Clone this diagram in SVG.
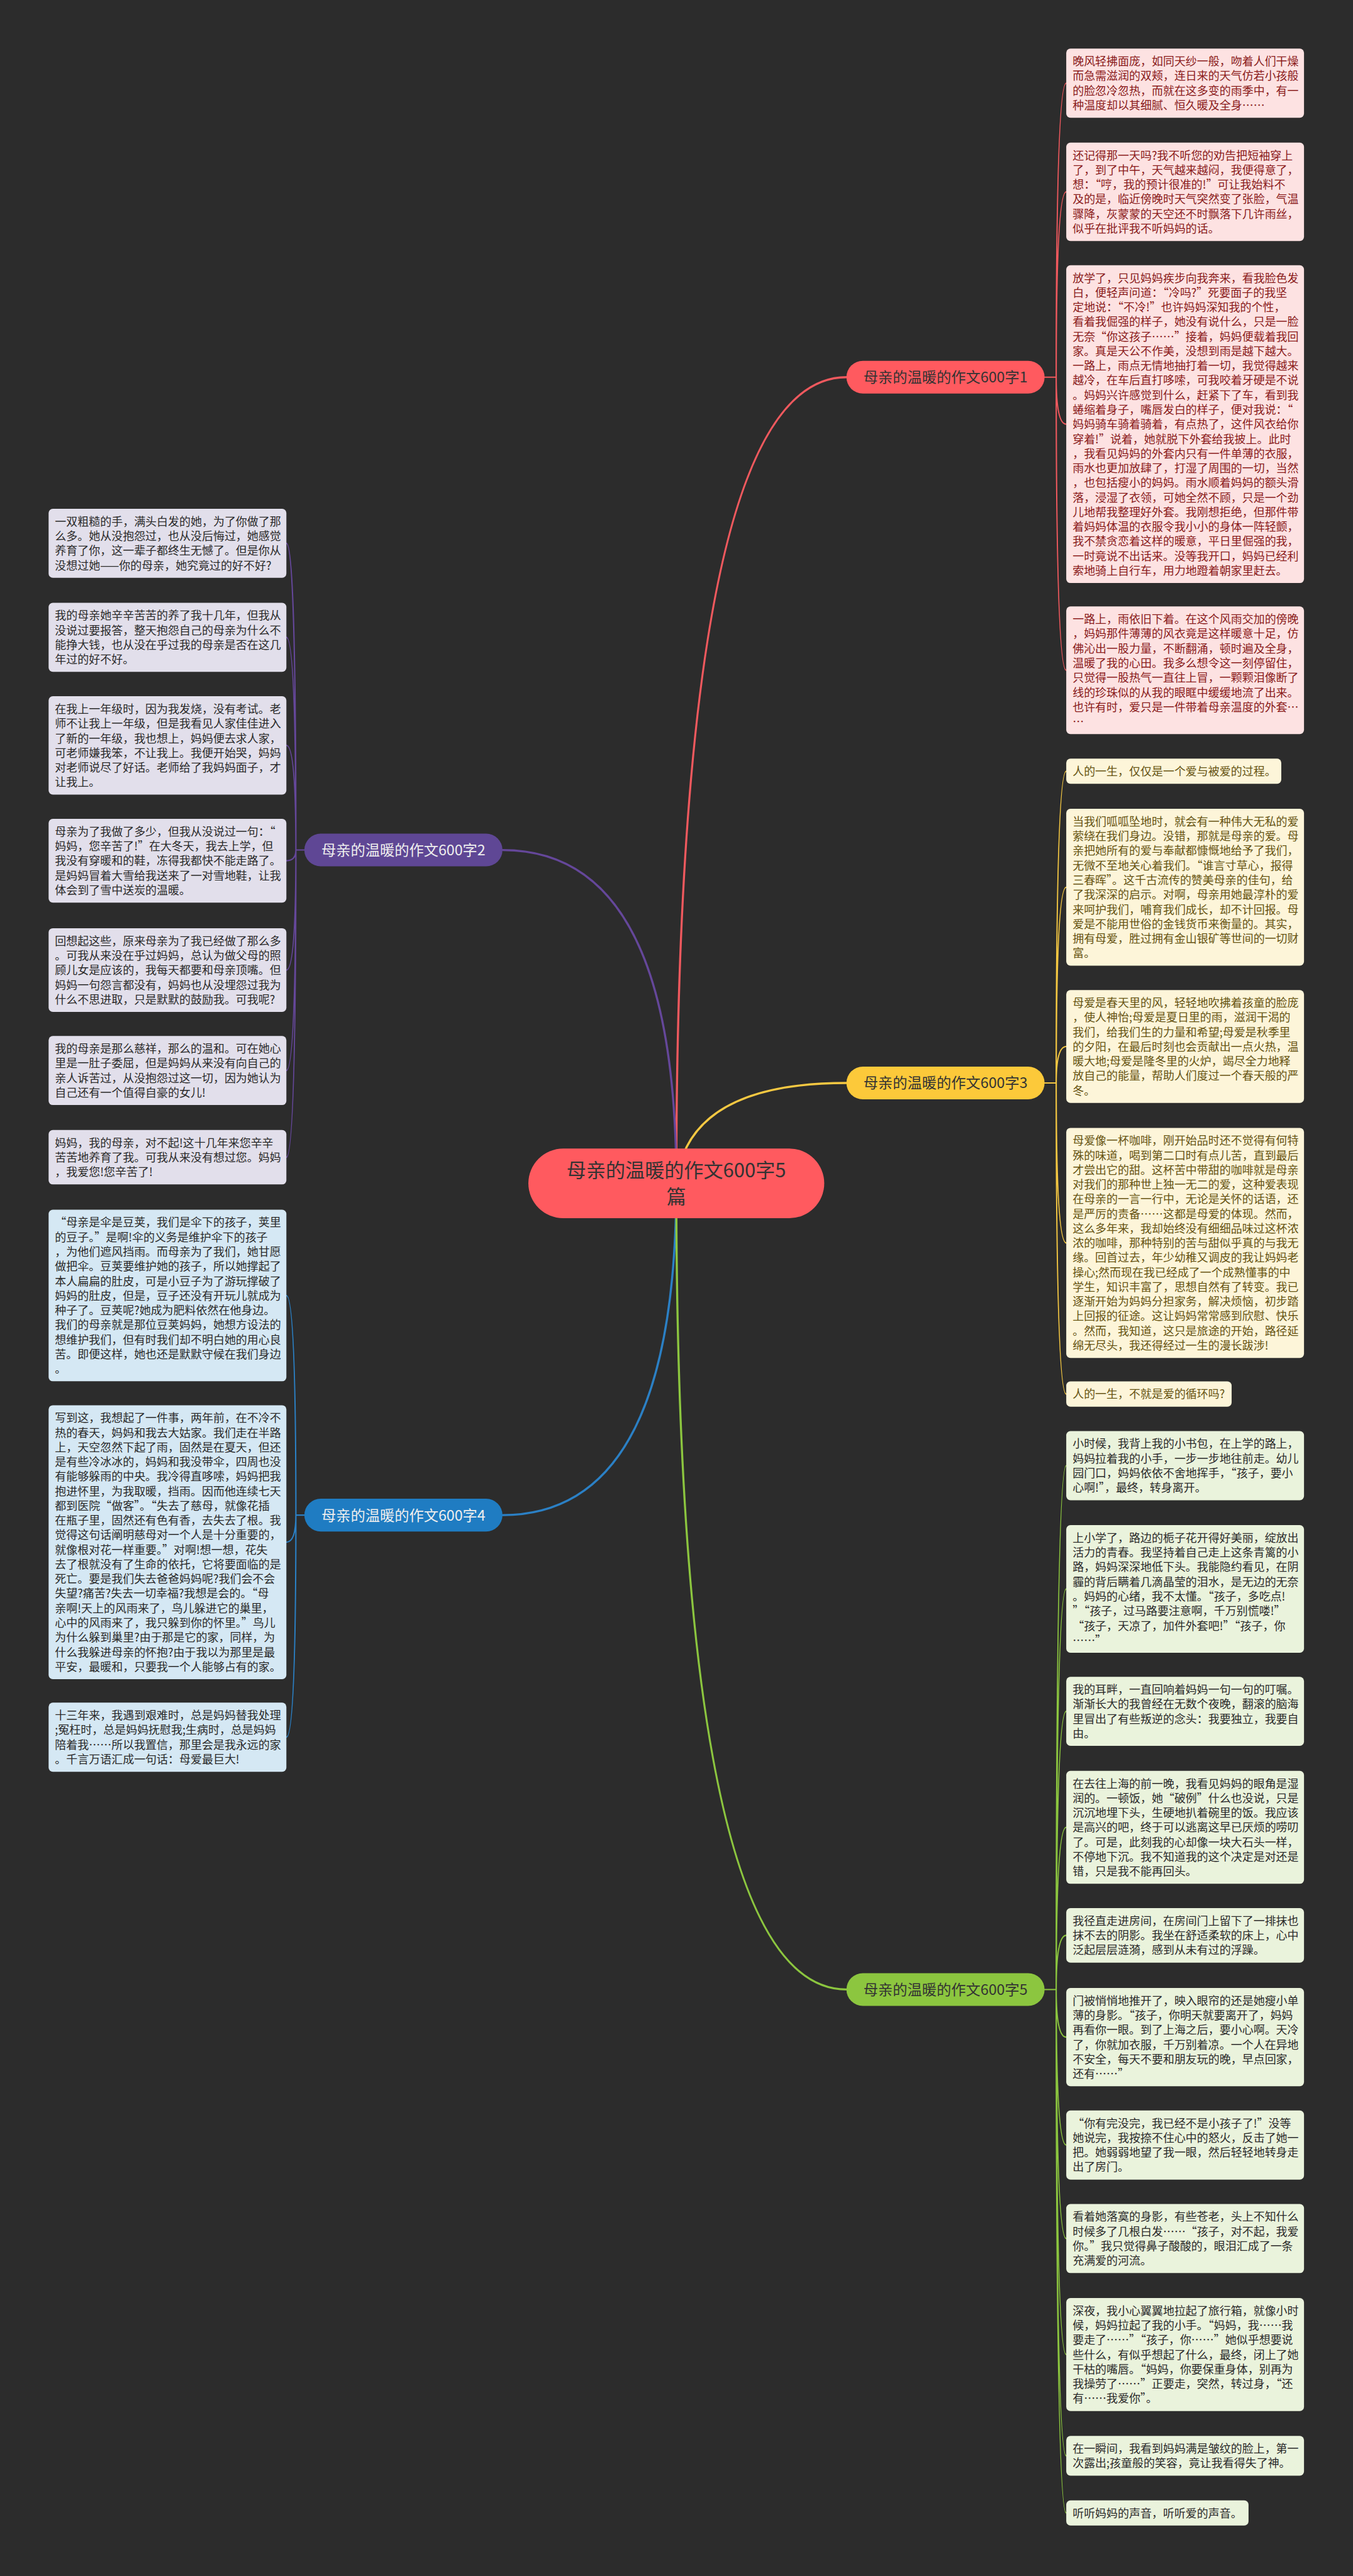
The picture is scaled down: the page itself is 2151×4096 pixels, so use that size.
<svg xmlns="http://www.w3.org/2000/svg" width="2151" height="4096" viewBox="0 0 2151 4096">
<style>
.t{font-family:"Noto Sans CJK SC","Noto Sans",sans-serif;font-size:21.4px}
.b{font-family:"Noto Sans CJK SC","Noto Sans",sans-serif;font-size:27.7px;text-anchor:middle}
.c{font-family:"Noto Sans CJK SC","Noto Sans",sans-serif;font-size:37px;text-anchor:middle;fill:#333}
.r rect{fill:#fde2e2}.r text{fill:#8a1a1a}
.y rect{fill:#fdf5d9}.y text{fill:#665311}
.g rect{fill:#eaf3dc}.g text{fill:#2a2a2a}
.p rect{fill:#e2dfeb}.p text{fill:#2a2a2a}
.u rect{fill:#d5e8f4}.u text{fill:#2a2a2a}
.cn path{fill:none;stroke-linecap:round}
.m{stroke-width:4}.s{stroke-width:2.5}
.lr{stroke:#f0595e}.ly{stroke:#f5c842}.lg{stroke:#8cc63f}.lp{stroke:#65479a}.lb{stroke:#2b80c5}
</style>
<rect x="0" y="0" width="2151" height="4096" fill="#2c2c2c"/>
<g transform="scale(0.84)">
<g id="connectors" class="cn">
<path class="m lr" d="M1280,2240 Q1280,714 1602,714"/>
<path class="m lp" d="M1280,2240 Q1280,1609 951,1609"/>
<path class="m ly" d="M1280,2240 Q1300,2050 1602,2050"/>
<path class="m lb" d="M1280,2240 Q1280,2868 951,2868"/>
<path class="m lg" d="M1280,2240 Q1280,3766 1602,3766"/>
<path class="s lr" d="M1977,714 L1999,714 M1999,714 Q1999,157.4 2018,157.4 M1999,714 Q1999,363.1 2018,363.1 M1999,714 Q1999,802.9 2018,802.9 M1999,714 Q1999,1268.8 2018,1268.8"/>
<path class="s ly" d="M1977,2050 L1999,2050 M1999,2050 Q1999,1459.9 2018,1459.9 M1999,2050 Q1999,1679.5 2018,1679.5 M1999,2050 Q1999,1981 2018,1981 M1999,2050 Q1999,2352.8 2018,2352.8 M1999,2050 Q1999,2638.9 2018,2638.9"/>
<path class="s lg" d="M1977,3766 L1999,3766 M1999,3766 Q1999,2774.4 2018,2774.4 M1999,3766 Q1999,3007.8 2018,3007.8 M1999,3766 Q1999,3239.4 2018,3239.4 M1999,3766 Q1999,3459 2018,3459 M1999,3766 Q1999,3663.6 2018,3663.6 M1999,3766 Q1999,3856.1 2018,3856.1 M1999,3766 Q1999,4060.4 2018,4060.4 M1999,3766 Q1999,4237.4 2018,4237.4 M1999,3766 Q1999,4457 2018,4457 M1999,3766 Q1999,4648.7 2018,4648.7 M1999,3766 Q1999,4756.9 2018,4756.9"/>
<path class="s lp" d="M576,1609 L560,1609 M560,1609 Q560,1028.4 542,1028.4 M560,1609 Q560,1206.4 542,1206.4 M560,1609 Q560,1411.1 542,1411.1 M560,1609 Q560,1629.3 542,1629.3 M560,1609 Q560,1836.3 542,1836.3 M560,1609 Q560,2026.4 542,2026.4 M560,1609 Q560,2190.6 542,2190.6"/>
<path class="s lb" d="M576,2868 L560,2868 M560,2868 Q560,2452.4 542,2452.4 M560,2868 Q560,2919.3 542,2919.3 M560,2868 Q560,3288.4 542,3288.4"/>
</g>

<g id="center"><rect x="1000" y="2174" width="560" height="132" rx="66" fill="#ff5a5f"/><text class="c" x="1280" y="2229">母亲的温暖的作文600字5</text><text class="c" x="1280" y="2278">篇</text></g>
<g id="branch1"><rect x="1602" y="683" width="375" height="62" rx="31" fill="#ff5a5f"/><text class="b" x="1789.5" y="724" fill="#333">母亲的温暖的作文600字1</text></g>
<g id="branch2"><rect x="576" y="1578" width="375" height="62" rx="31" fill="#5f4795"/><text class="b" x="763.5" y="1619" fill="#eeeeee">母亲的温暖的作文600字2</text></g>
<g id="branch3"><rect x="1602" y="2019" width="375" height="62" rx="31" fill="#fcc93a"/><text class="b" x="1789.5" y="2060" fill="#333">母亲的温暖的作文600字3</text></g>
<g id="branch4"><rect x="576" y="2837" width="375" height="62" rx="31" fill="#1f7cc2"/><text class="b" x="763.5" y="2878" fill="#eeeeee">母亲的温暖的作文600字4</text></g>
<g id="branch5"><rect x="1602" y="3735" width="375" height="62" rx="31" fill="#8cc63f"/><text class="b" x="1789.5" y="3776" fill="#333">母亲的温暖的作文600字5</text></g>

<g id="a1" class="r"><rect x="2018" y="92" width="450" height="130.8" rx="8"/><text class="t" x="2030" y="124"><tspan x="2030">晚风轻拂面庞，如同天纱一般，吻着人们干燥</tspan><tspan x="2030" dy="27.7">而急需滋润的双颊，连日来的天气仿若小孩般</tspan><tspan x="2030" dy="27.7">的脸忽冷忽热，而就在这多变的雨季中，有一</tspan><tspan x="2030" dy="27.7">种温度却以其细腻、恒久暖及全身……</tspan></text></g>
<g id="a2" class="r"><rect x="2018" y="270" width="450" height="186.2" rx="8"/><text class="t" x="2030" y="302"><tspan x="2030">还记得那一天吗?我不听您的劝告把短袖穿上</tspan><tspan x="2030" dy="27.7">了，到了中午，天气越来越闷，我便得意了，</tspan><tspan x="2030" dy="27.7">想：“哼，我的预计很准的!”可让我始料不</tspan><tspan x="2030" dy="27.7">及的是，临近傍晚时天气突然变了张脸，气温</tspan><tspan x="2030" dy="27.7">骤降，灰蒙蒙的天空还不时飘落下几许雨丝，</tspan><tspan x="2030" dy="27.7">似乎在批评我不听妈妈的话。</tspan></text></g>
<g id="a3" class="r"><rect x="2018" y="502" width="450" height="601.7" rx="8"/><text class="t" x="2030" y="534"><tspan x="2030">放学了，只见妈妈疾步向我奔来，看我脸色发</tspan><tspan x="2030" dy="27.7">白，便轻声问道：“冷吗?”死要面子的我坚</tspan><tspan x="2030" dy="27.7">定地说：“不冷!”也许妈妈深知我的个性，</tspan><tspan x="2030" dy="27.7">看着我倔强的样子，她没有说什么，只是一脸</tspan><tspan x="2030" dy="27.7">无奈“你这孩子……”接着，妈妈便载着我回</tspan><tspan x="2030" dy="27.7">家。真是天公不作美，没想到雨是越下越大。</tspan><tspan x="2030" dy="27.7">一路上，雨点无情地抽打着一切，我觉得越来</tspan><tspan x="2030" dy="27.7">越冷，在车后直打哆嗦，可我咬着牙硬是不说</tspan><tspan x="2030" dy="27.7">。妈妈兴许感觉到什么，赶紧下了车，看到我</tspan><tspan x="2030" dy="27.7">蜷缩着身子，嘴唇发白的样子，便对我说：“</tspan><tspan x="2030" dy="27.7">妈妈骑车骑着骑着，有点热了，这件风衣给你</tspan><tspan x="2030" dy="27.7">穿着!”说着，她就脱下外套给我披上。此时</tspan><tspan x="2030" dy="27.7">，我看见妈妈的外套内只有一件单薄的衣服，</tspan><tspan x="2030" dy="27.7">雨水也更加放肆了，打湿了周围的一切，当然</tspan><tspan x="2030" dy="27.7">，也包括瘦小的妈妈。雨水顺着妈妈的额头滑</tspan><tspan x="2030" dy="27.7">落，浸湿了衣领，可她全然不顾，只是一个劲</tspan><tspan x="2030" dy="27.7">儿地帮我整理好外套。我刚想拒绝，但那件带</tspan><tspan x="2030" dy="27.7">着妈妈体温的衣服令我小小的身体一阵轻颤，</tspan><tspan x="2030" dy="27.7">我不禁贪恋着这样的暖意，平日里倔强的我，</tspan><tspan x="2030" dy="27.7">一时竟说不出话来。没等我开口，妈妈已经利</tspan><tspan x="2030" dy="27.7">索地骑上自行车，用力地蹬着朝家里赶去。</tspan></text></g>
<g id="a4" class="r"><rect x="2018" y="1148" width="450" height="241.6" rx="8"/><text class="t" x="2030" y="1180"><tspan x="2030">一路上，雨依旧下着。在这个风雨交加的傍晚</tspan><tspan x="2030" dy="27.7">，妈妈那件薄薄的风衣竟是这样暖意十足，仿</tspan><tspan x="2030" dy="27.7">佛沁出一股力量，不断翻涌，顿时遍及全身，</tspan><tspan x="2030" dy="27.7">温暖了我的心田。我多么想令这一刻停留住，</tspan><tspan x="2030" dy="27.7">只觉得一股热气一直往上冒，一颗颗泪像断了</tspan><tspan x="2030" dy="27.7">线的珍珠似的从我的眼眶中缓缓地流了出来。</tspan><tspan x="2030" dy="27.7">也许有时，爱只是一件带着母亲温度的外套…</tspan><tspan x="2030" dy="27.7">…</tspan></text></g>

<g id="b1" class="y"><rect x="2018" y="1436" width="407" height="47.7" rx="8"/><text class="t" x="2030" y="1468">人的一生，仅仅是一个爱与被爱的过程。</text></g>
<g id="b2" class="y"><rect x="2018" y="1531" width="450" height="297" rx="8"/><text class="t" x="2030" y="1563"><tspan x="2030">当我们呱呱坠地时，就会有一种伟大无私的爱</tspan><tspan x="2030" dy="27.7">萦绕在我们身边。没错，那就是母亲的爱。母</tspan><tspan x="2030" dy="27.7">亲把她所有的爱与奉献都慷慨地给予了我们，</tspan><tspan x="2030" dy="27.7">无微不至地关心着我们。“谁言寸草心，报得</tspan><tspan x="2030" dy="27.7">三春晖”。这千古流传的赞美母亲的佳句，给</tspan><tspan x="2030" dy="27.7">了我深深的启示。对啊，母亲用她最淳朴的爱</tspan><tspan x="2030" dy="27.7">来呵护我们，哺育我们成长，却不计回报。母</tspan><tspan x="2030" dy="27.7">爱是不能用世俗的金钱货币来衡量的。其实，</tspan><tspan x="2030" dy="27.7">拥有母爱，胜过拥有金山银矿等世间的一切财</tspan><tspan x="2030" dy="27.7">富。</tspan></text></g>
<g id="b3" class="y"><rect x="2018" y="1874" width="450" height="213.9" rx="8"/><text class="t" x="2030" y="1906"><tspan x="2030">母爱是春天里的风，轻轻地吹拂着孩童的脸庞</tspan><tspan x="2030" dy="27.7">，使人神怡;母爱是夏日里的雨，滋润干渴的</tspan><tspan x="2030" dy="27.7">我们，给我们生的力量和希望;母爱是秋季里</tspan><tspan x="2030" dy="27.7">的夕阳，在最后时刻也会贡献出一点火热，温</tspan><tspan x="2030" dy="27.7">暖大地;母爱是隆冬里的火炉，竭尽全力地释</tspan><tspan x="2030" dy="27.7">放自己的能量，帮助人们度过一个春天般的严</tspan><tspan x="2030" dy="27.7">冬。</tspan></text></g>
<g id="b4" class="y"><rect x="2018" y="2135" width="450" height="435.5" rx="8"/><text class="t" x="2030" y="2167"><tspan x="2030">母爱像一杯咖啡，刚开始品时还不觉得有何特</tspan><tspan x="2030" dy="27.7">殊的味道，喝到第二口时有点儿苦，直到最后</tspan><tspan x="2030" dy="27.7">才尝出它的甜。这杯苦中带甜的咖啡就是母亲</tspan><tspan x="2030" dy="27.7">对我们的那种世上独一无二的爱，这种爱表现</tspan><tspan x="2030" dy="27.7">在母亲的一言一行中，无论是关怀的话语，还</tspan><tspan x="2030" dy="27.7">是严厉的责备……这都是母爱的体现。然而，</tspan><tspan x="2030" dy="27.7">这么多年来，我却始终没有细细品味过这杯浓</tspan><tspan x="2030" dy="27.7">浓的咖啡，那种特别的苦与甜似乎真的与我无</tspan><tspan x="2030" dy="27.7">缘。回首过去，年少幼稚又调皮的我让妈妈老</tspan><tspan x="2030" dy="27.7">操心;然而现在我已经成了一个成熟懂事的中</tspan><tspan x="2030" dy="27.7">学生，知识丰富了，思想自然有了转变。我已</tspan><tspan x="2030" dy="27.7">逐渐开始为妈妈分担家务，解决烦恼，初步踏</tspan><tspan x="2030" dy="27.7">上回报的征途。这让妈妈常常感到欣慰、快乐</tspan><tspan x="2030" dy="27.7">。然而，我知道，这只是旅途的开始，路径延</tspan><tspan x="2030" dy="27.7">绵无尽头，我还得经过一生的漫长跋涉!</tspan></text></g>
<g id="b5" class="y"><rect x="2018" y="2615" width="313" height="47.7" rx="8"/><text class="t" x="2030" y="2647">人的一生，不就是爱的循环吗?</text></g>

<g id="c1" class="g"><rect x="2018" y="2709" width="450" height="130.8" rx="8"/><text class="t" x="2030" y="2741"><tspan x="2030">小时候，我背上我的小书包，在上学的路上，</tspan><tspan x="2030" dy="27.7">妈妈拉着我的小手，一步一步地往前走。幼儿</tspan><tspan x="2030" dy="27.7">园门口，妈妈依依不舍地挥手，“孩子，要小</tspan><tspan x="2030" dy="27.7">心啊!”，最终，转身离开。</tspan></text></g>
<g id="c2" class="g"><rect x="2018" y="2887" width="450" height="241.6" rx="8"/><text class="t" x="2030" y="2919"><tspan x="2030">上小学了，路边的栀子花开得好美丽，绽放出</tspan><tspan x="2030" dy="27.7">活力的青春。我坚持着自己走上这条青篱的小</tspan><tspan x="2030" dy="27.7">路，妈妈深深地低下头。我能隐约看见，在阴</tspan><tspan x="2030" dy="27.7">霾的背后瞒着几滴晶莹的泪水，是无边的无奈</tspan><tspan x="2030" dy="27.7">。妈妈的心绪，我不太懂。“孩子，多吃点!</tspan><tspan x="2030" dy="27.7">”“孩子，过马路要注意啊，千万别慌喽!”</tspan><tspan x="2030" dy="27.7">“孩子，天凉了，加件外套吧!”“孩子，你</tspan><tspan x="2030" dy="27.7">……”</tspan></text></g>
<g id="c3" class="g"><rect x="2018" y="3174" width="450" height="130.8" rx="8"/><text class="t" x="2030" y="3206"><tspan x="2030">我的耳畔，一直回响着妈妈一句一句的叮嘱。</tspan><tspan x="2030" dy="27.7">渐渐长大的我曾经在无数个夜晚，翻滚的脑海</tspan><tspan x="2030" dy="27.7">里冒出了有些叛逆的念头：我要独立，我要自</tspan><tspan x="2030" dy="27.7">由。</tspan></text></g>
<g id="c4" class="g"><rect x="2018" y="3352" width="450" height="213.9" rx="8"/><text class="t" x="2030" y="3384"><tspan x="2030">在去往上海的前一晚，我看见妈妈的眼角是湿</tspan><tspan x="2030" dy="27.7">润的。一顿饭，她“破例”什么也没说，只是</tspan><tspan x="2030" dy="27.7">沉沉地埋下头，生硬地扒着碗里的饭。我应该</tspan><tspan x="2030" dy="27.7">是高兴的吧，终于可以逃离这早已厌烦的唠叨</tspan><tspan x="2030" dy="27.7">了。可是，此刻我的心却像一块大石头一样，</tspan><tspan x="2030" dy="27.7">不停地下沉。我不知道我的这个决定是对还是</tspan><tspan x="2030" dy="27.7">错，只是我不能再回头。</tspan></text></g>
<g id="c5" class="g"><rect x="2018" y="3612" width="450" height="103.1" rx="8"/><text class="t" x="2030" y="3644"><tspan x="2030">我径直走进房间，在房间门上留下了一排抹也</tspan><tspan x="2030" dy="27.7">抹不去的阴影。我坐在舒适柔软的床上，心中</tspan><tspan x="2030" dy="27.7">泛起层层涟漪，感到从未有过的浮躁。</tspan></text></g>
<g id="c6" class="g"><rect x="2018" y="3763" width="450" height="186.2" rx="8"/><text class="t" x="2030" y="3795"><tspan x="2030">门被悄悄地推开了，映入眼帘的还是她瘦小单</tspan><tspan x="2030" dy="27.7">薄的身影。“孩子，你明天就要离开了，妈妈</tspan><tspan x="2030" dy="27.7">再看你一眼。到了上海之后，要小心啊。天冷</tspan><tspan x="2030" dy="27.7">了，你就加衣服，千万别着凉。一个人在异地</tspan><tspan x="2030" dy="27.7">不安全，每天不要和朋友玩的晚，早点回家，</tspan><tspan x="2030" dy="27.7">还有……”</tspan></text></g>
<g id="c7" class="g"><rect x="2018" y="3995" width="450" height="130.8" rx="8"/><text class="t" x="2030" y="4027"><tspan x="2030">“你有完没完，我已经不是小孩子了!”没等</tspan><tspan x="2030" dy="27.7">她说完，我按捺不住心中的怒火，反击了她一</tspan><tspan x="2030" dy="27.7">把。她弱弱地望了我一眼，然后轻轻地转身走</tspan><tspan x="2030" dy="27.7">出了房门。</tspan></text></g>
<g id="c8" class="g"><rect x="2018" y="4172" width="450" height="130.8" rx="8"/><text class="t" x="2030" y="4204"><tspan x="2030">看着她落寞的身影，有些苍老，头上不知什么</tspan><tspan x="2030" dy="27.7">时候多了几根白发……“孩子，对不起，我爱</tspan><tspan x="2030" dy="27.7">你。”我只觉得鼻子酸酸的，眼泪汇成了一条</tspan><tspan x="2030" dy="27.7">充满爱的河流。</tspan></text></g>
<g id="c9" class="g"><rect x="2018" y="4350" width="450" height="213.9" rx="8"/><text class="t" x="2030" y="4382"><tspan x="2030">深夜，我小心翼翼地拉起了旅行箱，就像小时</tspan><tspan x="2030" dy="27.7">候，妈妈拉起了我的小手。“妈妈，我……我</tspan><tspan x="2030" dy="27.7">要走了……”“孩子，你……”她似乎想要说</tspan><tspan x="2030" dy="27.7">些什么，有似乎想起了什么，最终，闭上了她</tspan><tspan x="2030" dy="27.7">干枯的嘴唇。“妈妈，你要保重身体，别再为</tspan><tspan x="2030" dy="27.7">我操劳了……”正要走，突然，转过身，“还</tspan><tspan x="2030" dy="27.7">有……我爱你”。</tspan></text></g>
<g id="c10" class="g"><rect x="2018" y="4611" width="450" height="75.4" rx="8"/><text class="t" x="2030" y="4643"><tspan x="2030">在一瞬间，我看到妈妈满是皱纹的脸上，第一</tspan><tspan x="2030" dy="27.7">次露出;孩童般的笑容，竟让我看得失了神。</tspan></text></g>
<g id="c11" class="g"><rect x="2018" y="4733" width="345" height="47.7" rx="8"/><text class="t" x="2030" y="4765">听听妈妈的声音，听听爱的声音。</text></g>

<g id="d1" class="p"><rect x="92" y="963" width="450" height="130.8" rx="8"/><text class="t" x="104" y="995"><tspan x="104">一双粗糙的手，满头白发的她，为了你做了那</tspan><tspan x="104" dy="27.7">么多。她从没抱怨过，也从没后悔过，她感觉</tspan><tspan x="104" dy="27.7">养育了你，这一辈子都终生无憾了。但是你从</tspan><tspan x="104" dy="27.7">没想过她——你的母亲，她究竟过的好不好?</tspan></text></g>
<g id="d2" class="p"><rect x="92" y="1141" width="450" height="130.8" rx="8"/><text class="t" x="104" y="1173"><tspan x="104">我的母亲她辛辛苦苦的养了我十几年，但我从</tspan><tspan x="104" dy="27.7">没说过要报答，整天抱怨自己的母亲为什么不</tspan><tspan x="104" dy="27.7">能挣大钱，也从没在乎过我的母亲是否在这几</tspan><tspan x="104" dy="27.7">年过的好不好。</tspan></text></g>
<g id="d3" class="p"><rect x="92" y="1318" width="450" height="186.2" rx="8"/><text class="t" x="104" y="1350"><tspan x="104">在我上一年级时，因为我发烧，没有考试。老</tspan><tspan x="104" dy="27.7">师不让我上一年级，但是我看见人家佳佳进入</tspan><tspan x="104" dy="27.7">了新的一年级，我也想上，妈妈便去求人家，</tspan><tspan x="104" dy="27.7">可老师嫌我笨，不让我上。我便开始哭，妈妈</tspan><tspan x="104" dy="27.7">对老师说尽了好话。老师给了我妈妈面子，才</tspan><tspan x="104" dy="27.7">让我上。</tspan></text></g>
<g id="d4" class="p"><rect x="92" y="1550" width="450" height="158.5" rx="8"/><text class="t" x="104" y="1582"><tspan x="104">母亲为了我做了多少，但我从没说过一句：“</tspan><tspan x="104" dy="27.7">妈妈，您辛苦了!”在大冬天，我去上学，但</tspan><tspan x="104" dy="27.7">我没有穿暖和的鞋，冻得我都快不能走路了。</tspan><tspan x="104" dy="27.7">是妈妈冒着大雪给我送来了一对雪地鞋，让我</tspan><tspan x="104" dy="27.7">体会到了雪中送炭的温暖。</tspan></text></g>
<g id="d5" class="p"><rect x="92" y="1757" width="450" height="158.5" rx="8"/><text class="t" x="104" y="1789"><tspan x="104">回想起这些，原来母亲为了我已经做了那么多</tspan><tspan x="104" dy="27.7">。可我从来没在乎过妈妈，总认为做父母的照</tspan><tspan x="104" dy="27.7">顾儿女是应该的，我每天都要和母亲顶嘴。但</tspan><tspan x="104" dy="27.7">妈妈一句怨言都没有，妈妈也从没埋怨过我为</tspan><tspan x="104" dy="27.7">什么不思进取，只是默默的鼓励我。可我呢?</tspan></text></g>
<g id="d6" class="p"><rect x="92" y="1961" width="450" height="130.8" rx="8"/><text class="t" x="104" y="1993"><tspan x="104">我的母亲是那么慈祥，那么的温和。可在她心</tspan><tspan x="104" dy="27.7">里是一肚子委屈，但是妈妈从来没有向自己的</tspan><tspan x="104" dy="27.7">亲人诉苦过，从没抱怨过这一切，因为她认为</tspan><tspan x="104" dy="27.7">自己还有一个值得自豪的女儿!</tspan></text></g>
<g id="d7" class="p"><rect x="92" y="2139" width="450" height="103.1" rx="8"/><text class="t" x="104" y="2171"><tspan x="104">妈妈，我的母亲，对不起!这十几年来您辛辛</tspan><tspan x="104" dy="27.7">苦苦地养育了我。可我从来没有想过您。妈妈</tspan><tspan x="104" dy="27.7">，我爱您!您辛苦了!</tspan></text></g>

<g id="e1" class="u"><rect x="92" y="2290" width="450" height="324.7" rx="8"/><text class="t" x="104" y="2322"><tspan x="104">“母亲是伞是豆荚，我们是伞下的孩子，荚里</tspan><tspan x="104" dy="27.7">的豆子。”是啊!伞的义务是维护伞下的孩子</tspan><tspan x="104" dy="27.7">，为他们遮风挡雨。而母亲为了我们，她甘愿</tspan><tspan x="104" dy="27.7">做把伞。豆荚要维护她的孩子，所以她撑起了</tspan><tspan x="104" dy="27.7">本人扁扁的肚皮，可是小豆子为了游玩撑破了</tspan><tspan x="104" dy="27.7">妈妈的肚皮，但是，豆子还没有开玩儿就成为</tspan><tspan x="104" dy="27.7">种子了。豆荚呢?她成为肥料依然在他身边。</tspan><tspan x="104" dy="27.7">我们的母亲就是那位豆荚妈妈，她想方设法的</tspan><tspan x="104" dy="27.7">想维护我们，但有时我们却不明白她的用心良</tspan><tspan x="104" dy="27.7">苦。即便这样，她也还是默默守候在我们身边</tspan><tspan x="104" dy="27.7">。</tspan></text></g>
<g id="e2" class="u"><rect x="92" y="2660" width="450" height="518.6" rx="8"/><text class="t" x="104" y="2692"><tspan x="104">写到这，我想起了一件事，两年前，在不冷不</tspan><tspan x="104" dy="27.7">热的春天，妈妈和我去大姑家。我们走在半路</tspan><tspan x="104" dy="27.7">上，天空忽然下起了雨，固然是在夏天，但还</tspan><tspan x="104" dy="27.7">是有些冷冰冰的，妈妈和我没带伞，四周也没</tspan><tspan x="104" dy="27.7">有能够躲雨的中央。我冷得直哆嗦，妈妈把我</tspan><tspan x="104" dy="27.7">抱进怀里，为我取暖，挡雨。因而他连续七天</tspan><tspan x="104" dy="27.7">都到医院“做客”。“失去了慈母，就像花插</tspan><tspan x="104" dy="27.7">在瓶子里，固然还有色有香，去失去了根。我</tspan><tspan x="104" dy="27.7">觉得这句话阐明慈母对一个人是十分重要的，</tspan><tspan x="104" dy="27.7">就像根对花一样重要。”对啊!想一想，花失</tspan><tspan x="104" dy="27.7">去了根就没有了生命的依托，它将要面临的是</tspan><tspan x="104" dy="27.7">死亡。要是我们失去爸爸妈妈呢?我们会不会</tspan><tspan x="104" dy="27.7">失望?痛苦?失去一切幸福?我想是会的。“母</tspan><tspan x="104" dy="27.7">亲啊!天上的风雨来了，鸟儿躲进它的巢里，</tspan><tspan x="104" dy="27.7">心中的风雨来了，我只躲到你的怀里。”鸟儿</tspan><tspan x="104" dy="27.7">为什么躲到巢里?由于那是它的家，同样，为</tspan><tspan x="104" dy="27.7">什么我躲进母亲的怀抱?由于我以为那里是最</tspan><tspan x="104" dy="27.7">平安，最暖和，只要我一个人能够占有的家。</tspan></text></g>
<g id="e3" class="u"><rect x="92" y="3223" width="450" height="130.8" rx="8"/><text class="t" x="104" y="3255"><tspan x="104">十三年来，我遇到艰难时，总是妈妈替我处理</tspan><tspan x="104" dy="27.7">;冤枉时，总是妈妈抚慰我;生病时，总是妈妈</tspan><tspan x="104" dy="27.7">陪着我……所以我置信，那里会是我永远的家</tspan><tspan x="104" dy="27.7">。千言万语汇成一句话：母爱最巨大!</tspan></text></g>
</g>
</svg>
